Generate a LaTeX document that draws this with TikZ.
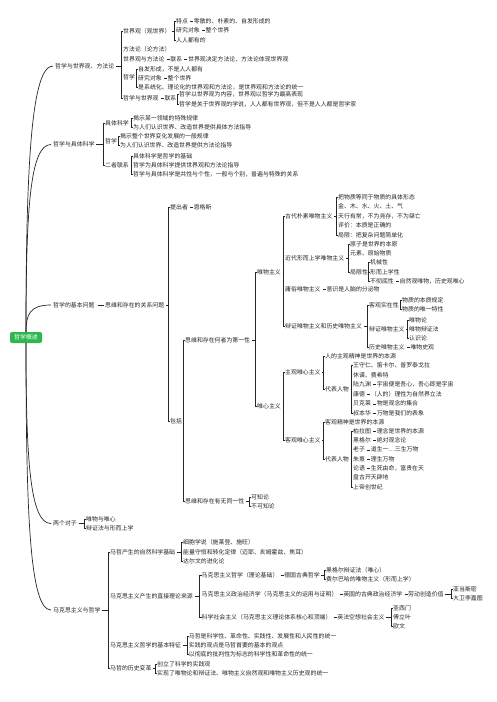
\documentclass[tikz,border=0pt]{standalone}
\usepackage{fontspec}
\newfontfamily\cjk{Noto Sans CJK SC}
\usetikzlibrary{positioning}
\definecolor{rootgreen}{RGB}{44,184,78}
\definecolor{ink}{RGB}{38,38,38}
\newcommand{\tiedash}{\hspace{2.2pt}\rule[1.9pt]{3pt}{0.55pt}\hspace{0.7pt}}
% bracket from a parent to its first and last child
\newcommand{\fork}[3]{%
  \path ([xshift=-1.6pt]#2.west) coordinate (bk);
  \draw[ln] ([xshift=1.5pt]#1.east) -- (bk |- #1.east);
  \draw[brk] (#2.west) -- (bk) -- (bk |- #3.west) -- (#3.west);}

\begin{document}
\begin{tikzpicture}[x=1pt, y=-1pt,
  txt/.style={font=\cjk\fontsize{5.9}{7}\selectfont, text=ink, inner sep=0pt, anchor=west},
  ln/.style={draw=ink, line width=0.7pt},
  brk/.style={draw=ink, line width=1pt},
  root/.style={fill=rootgreen, rounded corners=2pt, text=white, font=\cjk\fontsize{5.9}{7}\selectfont,
    minimum width=32pt, minimum height=11pt, inner sep=0pt}]
  \fill[white] (0,0) rectangle (496,702);
  \useasboundingbox (0,0) rectangle (496,702);

  % root
  \node[root] (root) at (26,337.5) {哲学概述};

  % philosophy, world view, method
  \node[txt] (phwv) at (55,66) {哲学与世界观、方法论};
  \node[txt] (wv) at (123,31) {世界观（观世界）};
  \node[txt] (md) at (123,49.5) {方法论（论方法）};
  \node[txt] (wvmd) at (123,59.5) {世界观与方法论\tiedash 联系\tiedash 世界观决定方法论，方法论体现世界观};
  \node[txt] (ph) at (123,77.5) {哲学};
  \node[txt] (phlink) at (123,98.5) {哲学与世界观\tiedash 联系};
  \fork{phwv}{wv}{phlink}
  \node[txt] (wv1) at (176,21) {特点\tiedash 零散的、朴素的、自发形成的};
  \node[txt] (wv2) at (176,30.5) {研究对象\tiedash 整个世界};
  \node[txt] (wv3) at (176,40) {人人都有的};
  \fork{wv}{wv1}{wv3}
  \node[txt] (ph1) at (138,69) {自发形成，不是人人都有};
  \node[txt] (ph2) at (138,78.3) {研究对象\tiedash 整个世界};
  \node[txt] (ph3) at (138,87.7) {是系统化、理论化的世界观和方法论，是世界观和方法论的统一};
  \fork{ph}{ph1}{ph3}
  \node[txt] (pl1) at (179,94.5) {哲学以世界观为内容，世界观以哲学为最高表现};
  \node[txt] (pl2) at (179,104) {哲学是关于世界观的学说，人人都有世界观，但不是人人都是哲学家};
  \fork{phlink}{pl1}{pl2}

  % philosophy and sciences
  \node[txt] (phsc) at (53,144.5) {哲学与具体科学};
  \node[txt] (sc) at (105,123) {具体科学};
  \node[txt] (sph) at (105,141.3) {哲学};
  \node[txt] (both) at (105,165.3) {二者联系};
  \fork{phsc}{sc}{both}
  \node[txt] (sc1) at (133,118) {揭示某一领域的特殊规律};
  \node[txt] (sc2) at (133,127.3) {为人们认识世界、改造世界提供具体方法指导};
  \fork{sc}{sc1}{sc2}
  \node[txt] (sph1) at (120,136.7) {揭示整个世界变化发展的一般规律};
  \node[txt] (sph2) at (120,145.7) {为人们认识世界、改造世界提供方法论指导};
  \fork{sph}{sph1}{sph2}
  \node[txt] (both1) at (133,156) {具体科学是哲学的基础};
  \node[txt] (both2) at (133,165.3) {哲学为具体科学提供世界观和方法论指导};
  \node[txt] (both3) at (133,174.6) {哲学与具体科学是共性与个性，一般与个别，普遍与特殊的关系};
  \fork{both}{both1}{both3}

  % basic question
  \node[txt] (basic) at (53,305) {哲学的基本问题};
  \node[txt] (rel) at (105,305) {思维和存在的关系问题};
  \draw[ln] ([xshift=3pt]basic.east) -- ([xshift=-1pt]rel.west);
  \node[txt] (who) at (170,207) {提出者\tiedash 恩格斯};
  \node[txt] (incl) at (170,421) {包括};
  \fork{rel}{who}{incl}
  \node[txt] (first) at (185,340) {思维和存在何者为第一性};
  \node[txt] (ident) at (185,501.5) {思维和存在有无同一性};
  \fork{incl}{first}{ident}
  \node[txt] (kn1) at (251,497.3) {可知论};
  \node[txt] (kn2) at (251,506.5) {不可知论};
  \fork{ident}{kn1}{kn2}
  \node[txt] (mat) at (257,272) {唯物主义};
  \node[txt] (idl) at (257,406.5) {唯心主义};
  \fork{first}{mat}{idl}
  % materialism
  \node[txt] (anc) at (285,216) {古代朴素唯物主义};
  \node[txt] (mod) at (285,258.3) {近代形而上学唯物主义};
  \node[txt] (vul) at (285,289) {庸俗唯物主义\tiedash 意识是人脑的分泌物};
  \node[txt] (dia) at (285,326.7) {辩证唯物主义和历史唯物主义};
  \fork{mat}{anc}{dia}
  \node[txt] (anc1) at (338,197.2) {把物质等同于物质的具体形态};
  \node[txt] (anc2) at (338,206.7) {金、木、水、火、土、气};
  \node[txt] (anc3) at (338,216.2) {天行有常，不为尧存，不为桀亡};
  \node[txt] (anc4) at (338,225.7) {评价：本质是正确的};
  \node[txt] (anc5) at (338,235.2) {局限：把复杂问题简单化};
  \fork{anc}{anc1}{anc5}
  \node[txt] (mod1) at (350,244.3) {原子是世界的本原};
  \node[txt] (mod2) at (350,253.5) {元素、原始物质};
  \node[txt] (lim) at (350,272) {局限性};
  \fork{mod}{mod1}{lim}
  \node[txt] (lim1) at (370,262.5) {机械性};
  \node[txt] (lim2) at (370,272) {形而上学性};
  \node[txt] (lim3) at (370,281.5) {不彻底性\tiedash 自然观唯物，历史观唯心};
  \fork{lim}{lim1}{lim3}
  \node[txt] (obj) at (369,305) {客观实在性};
  \node[txt] (dm) at (369,329) {辩证唯物主义};
  \node[txt] (hm) at (369,347.5) {历史唯物主义\tiedash 唯物史观};
  \fork{dia}{obj}{hm}
  \node[txt] (obj1) at (402,300.3) {物质的本质规定};
  \node[txt] (obj2) at (402,309.7) {物质的唯一特性};
  \fork{obj}{obj1}{obj2}
  \node[txt] (dm1) at (409,320) {唯物论};
  \node[txt] (dm2) at (409,329) {唯物辩证法};
  \node[txt] (dm3) at (409,338) {认识论};
  \fork{dm}{dm1}{dm3}
  % idealism
  \node[txt] (subj) at (285,372.7) {主观唯心主义};
  \node[txt] (objid) at (285,440.5) {客观唯心主义};
  \fork{idl}{subj}{objid}
  \node[txt] (subj1) at (325,356.7) {人的主观精神是世界的本源};
  \node[txt] (sreps) at (325,389) {代表人物};
  \fork{subj}{subj1}{sreps}
  \node[txt] (sr1) at (353,365.7) {王守仁、笛卡尔、普罗泰戈拉};
  \node[txt] (sr2) at (353,375.2) {休谟、费希特};
  \node[txt] (sr3) at (353,384.7) {陆九渊\tiedash 宇宙便是吾心，吾心即是宇宙};
  \node[txt] (sr4) at (353,394.2) {康德\tiedash （人的）理性为自然界立法};
  \node[txt] (sr5) at (353,403.7) {贝克莱\tiedash 物是观念的集合};
  \node[txt] (sr6) at (353,413.2) {叔本华\tiedash 万物是我们的表象};
  \fork{sreps}{sr1}{sr6}
  \node[txt] (objid1) at (325,422.3) {客观精神是世界的本源};
  \node[txt] (oreps) at (325,459) {代表人物};
  \fork{objid}{objid1}{oreps}
  \node[txt] (or1) at (353,431) {柏拉图\tiedash 理念是世界的本源};
  \node[txt] (or2) at (353,440.3) {黑格尔\tiedash 绝对观念论};
  \node[txt] (or3) at (353,449.7) {老子\tiedash 道生一…三生万物};
  \node[txt] (or4) at (353,459) {朱熹\tiedash 理生万物};
  \node[txt] (or5) at (353,468.3) {论语\tiedash 生死由命，富贵在天};
  \node[txt] (or6) at (353,477.7) {盘古开天辟地};
  \node[txt] (or7) at (353,487) {上帝创世纪};
  \fork{oreps}{or1}{or7}

  % two pairs
  \node[txt] (pairs) at (53,523.5) {两个对子};
  \node[txt] (pr1) at (86,519.3) {唯物与唯心};
  \node[txt] (pr2) at (86,528.7) {辩证法与形而上学};
  \fork{pairs}{pr1}{pr2}

  % marxism
  \node[txt] (marx) at (53,610) {马克思主义与哲学};
  \node[txt] (nat) at (110,552) {马哲产生的自然科学基础};
  \node[txt] (src) at (110,596.5) {马克思主义产生的直接理论来源};
  \node[txt] (feat) at (110,645) {马克思主义哲学的基本特征};
  \node[txt] (chg) at (110,668.5) {马哲的历史变革};
  \fork{marx}{nat}{chg}
  \node[txt] (nat1) at (183,542.7) {细胞学说（施莱登、施旺）};
  \node[txt] (nat2) at (183,552) {能量守恒和转化定律（迈耶、亥姆霍兹、焦耳）};
  \node[txt] (nat3) at (183,561.3) {达尔文的进化论};
  \fork{nat}{nat1}{nat3}
  \node[txt] (s1) at (201.5,575) {马克思主义哲学（理论基础）\tiedash 德国古典哲学};
  \node[txt] (s2) at (201.5,594) {马克思主义政治经济学（马克思主义的运用与证明）\tiedash 英国的古典政治经济学\tiedash 劳动创造价值};
  \node[txt] (s3) at (201.5,617.3) {科学社会主义（马克思主义理论体系核心和顶端）\tiedash 英法空想社会主义};
  \fork{src}{s1}{s3}
  \node[txt] (s11) at (326,570.3) {黑格尔辩证法（唯心）};
  \node[txt] (s12) at (326,579.7) {费尔巴哈的唯物主义（形而上学）};
  \fork{s1}{s11}{s12}
  \node[txt] (s21) at (453,589.5) {亚当斯密};
  \node[txt] (s22) at (453,598.7) {大卫李嘉图};
  \fork{s2}{s21}{s22}
  \node[txt] (s31) at (393,608) {圣西门};
  \node[txt] (s32) at (393,617.3) {傅立叶};
  \node[txt] (s33) at (393,626.6) {欧文};
  \fork{s3}{s31}{s33}
  \node[txt] (feat1) at (188.7,636) {马哲是科学性、革命性、实践性、发展性和人民性的统一};
  \node[txt] (feat2) at (188.7,645) {实践的观点是马哲首要的基本的观点};
  \node[txt] (feat3) at (188.7,654) {以彻底的批判性为标志的科学性和革命性的统一};
  \fork{feat}{feat1}{feat3}
  \node[txt] (chg1) at (157,664.3) {创立了科学的实践观};
  \node[txt] (chg2) at (157,673) {实现了唯物论和辩证法、唯物主义自然观和唯物主义历史观的统一};
  \fork{chg}{chg1}{chg2}

  % branches from the root
  \draw[ln] (root.north) .. controls +(0,-173) and +(-21,0) .. ([xshift=-2pt]phwv.west);
  \draw[ln] (root.north) .. controls +(0,-122) and +(-21,0) .. ([xshift=-2pt]phsc.west);
  \draw[ln] (root.north) .. controls +(0,-17.5) and +(-21,0) .. ([xshift=-2pt]basic.west);
  \draw[ln] (root.south) .. controls +(0,117) and +(-21,0) .. ([xshift=-2pt]pairs.west);
  \draw[ln] (root.south) .. controls +(0,173.5) and +(-21,0) .. ([xshift=-2pt]marx.west);
\end{tikzpicture}
\end{document}
